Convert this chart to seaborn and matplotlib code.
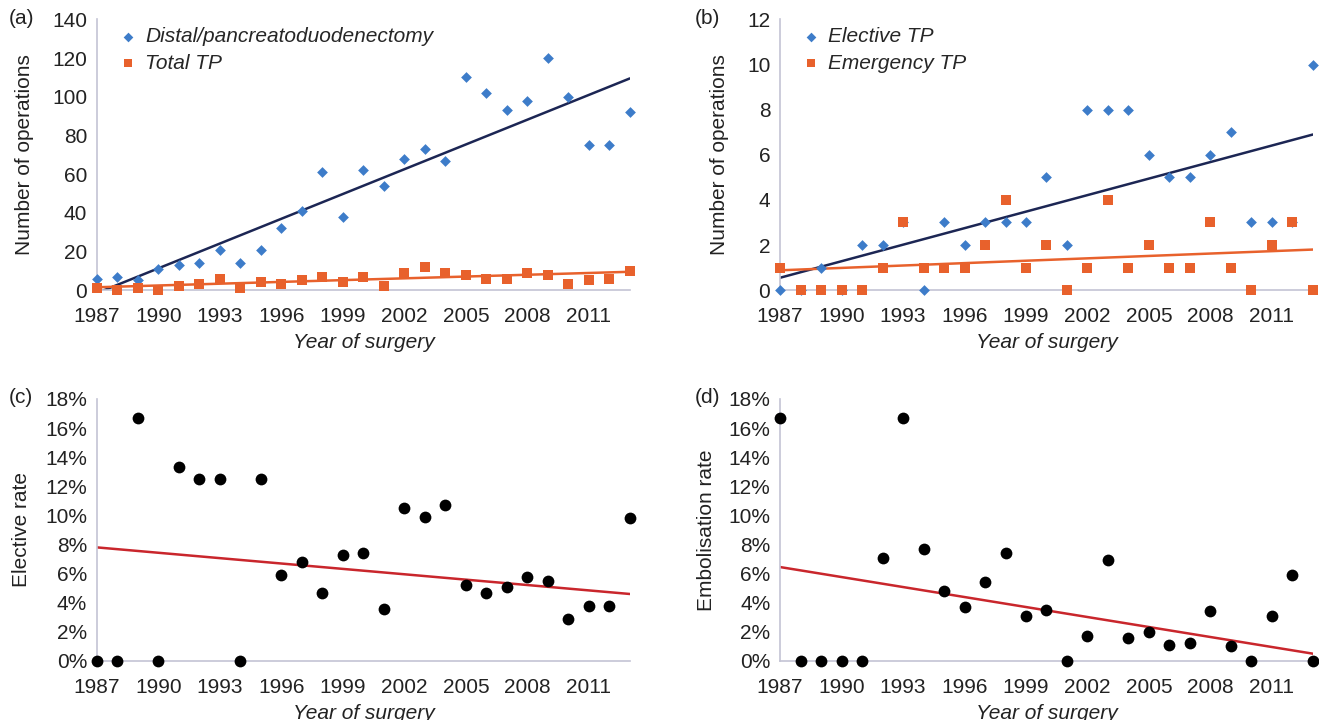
import numpy as np
import pandas as pd
import matplotlib
matplotlib.use("Agg")
import matplotlib.pyplot as plt
import seaborn as sns
from matplotlib.ticker import PercentFormatter

years = list(range(1987, 2014))

# (a) operations per year
distal = [6, 7, 5, 11, 13, 14, 21, 14, 21, 32, 41, 61, 38, 62, 54, 68, 73, 67,
          110, 102, 93, 98, 120, 100, 75, 75, 92]
total_tp = [1, 0, 1, 0, 2, 3, 6, 1, 4, 3, 5, 7, 4, 7, 2, 9, 12, 9,
            8, 6, 6, 9, 8, 3, 5, 6, 10]

# (b) elective vs emergency TP
elective_tp = [0, 0, 1, 0, 2, 2, 3, 0, 3, 2, 3, 3, 3, 5, 2, 8, 8, 8,
               6, 5, 5, 6, 7, 3, 3, 3, 10]
emergency_tp = [1, 0, 0, 0, 0, 1, 3, 1, 1, 1, 2, 4, 1, 2, 0, 1, 4, 1,
                2, 1, 1, 3, 1, 0, 2, 3, 0]

# (c) elective rate, (d) embolisation rate (in %)
elective_rate = [0, 0, 16.7, 0, 13.3, 12.5, 12.5, 0, 12.5, 5.9, 6.8, 4.7, 7.3, 7.4,
                 3.6, 10.5, 9.9, 10.7, 5.2, 4.7, 5.1, 5.8, 5.5, 2.9, 3.8, 3.8, 9.8]
embolisation_rate = [16.7, 0, 0, 0, 0, 7.1, 16.7, 7.7, 4.8, 3.7, 5.4, 7.4, 3.1, 3.5,
                     0, 1.7, 6.9, 1.6, 2.0, 1.1, 1.2, 3.4, 1.0, 0, 3.1, 5.9, 0]

# trend lines as drawn in the figure (value at 1987 and at 2013)
trend_years = [1987, 2013]
trend_distal = [-1.5, 109.5]
trend_total = [1.5, 9.5]
trend_elective = [0.55, 6.9]
trend_emergency = [0.88, 1.8]
trend_elective_rate = [7.8, 4.6]
trend_embolisation_rate = [6.45, 0.5]

xticks = list(range(1987, 2012, 3))

df = pd.DataFrame({"year": years, "distal": distal, "total_tp": total_tp,
                   "elective_tp": elective_tp, "emergency_tp": emergency_tp,
                   "elective_rate": elective_rate,
                   "embolisation_rate": embolisation_rate})
trend = pd.DataFrame({"year": trend_years, "distal": trend_distal,
                      "total_tp": trend_total, "elective_tp": trend_elective,
                      "emergency_tp": trend_emergency,
                      "elective_rate": trend_elective_rate,
                      "embolisation_rate": trend_embolisation_rate})

sns.set_style("white")
plt.rcParams["font.family"] = ["Liberation Sans", "DejaVu Sans"]
plt.rcParams["font.size"] = 14

blue = "#3d7cc9"
orange = "#e8612c"
navy = "#1c2654"
red = "#c9262c"
spine = "#c4c4d4"
txt = "#222222"

fig = plt.figure(figsize=(13.19, 7.2), dpi=100)
ax_a = fig.add_axes([0.0735, 0.597, 0.404, 0.376])
ax_b = fig.add_axes([0.5914, 0.597, 0.404, 0.376])
ax_c = fig.add_axes([0.0735, 0.082, 0.404, 0.364])
ax_d = fig.add_axes([0.5914, 0.082, 0.404, 0.364])


def scatter_fit(ax, col, mcolor, lcolor, marker, size, label=None):
    sns.lineplot(data=trend, x="year", y=col, ax=ax, color=lcolor, lw=1.8,
                 zorder=2)
    sns.scatterplot(data=df, x="year", y=col, ax=ax, color=mcolor,
                    marker=marker, s=size, linewidth=0, clip_on=False,
                    zorder=3, label=label)


scatter_fit(ax_a, "distal", blue, navy, "D", 30, "Distal/pancreatoduodenectomy")
scatter_fit(ax_a, "total_tp", orange, orange, "s", 42, "Total TP")
scatter_fit(ax_b, "elective_tp", blue, navy, "D", 30, "Elective TP")
scatter_fit(ax_b, "emergency_tp", orange, orange, "s", 42, "Emergency TP")
scatter_fit(ax_c, "elective_rate", "black", red, "o", 72)
scatter_fit(ax_d, "embolisation_rate", "black", red, "o", 72)

ax_a.set_ylim(0, 140)
ax_a.set_yticks(range(0, 141, 20))
ax_b.set_ylim(0, 12)
ax_b.set_yticks(range(0, 13, 2))
for ax in (ax_c, ax_d):
    ax.set_ylim(0, 18)
    ax.set_yticks(range(0, 19, 2))
    ax.yaxis.set_major_formatter(PercentFormatter(100, decimals=0))

for ax in (ax_a, ax_b, ax_c, ax_d):
    ax.set_xlim(1987, 2013)
    ax.set_xticks(xticks)
    sns.despine(ax=ax)
    for s in ("left", "bottom"):
        ax.spines[s].set_color(spine)
        ax.spines[s].set_linewidth(1.2)
    ax.tick_params(axis="y", direction="out", length=5, color=spine,
                   labelsize=15, labelcolor=txt, pad=2)
    ax.tick_params(axis="x", direction="in", length=6, color=spine,
                   labelsize=15, labelcolor=txt, pad=12)
    ax.set_xlabel("Year of surgery", fontstyle="italic", fontsize=15,
                  color=txt, labelpad=5)

ax_a.set_ylabel("Number of operations", fontsize=15, color=txt, labelpad=13)
ax_b.set_ylabel("Number of operations", fontsize=15, color=txt, labelpad=13)
ax_c.set_ylabel("Elective rate", fontsize=15, color=txt, labelpad=10)
ax_d.set_ylabel("Embolisation rate", fontsize=15, color=txt, labelpad=9)

for ax in (ax_a, ax_b):
    ax.legend(loc="upper left", bbox_to_anchor=(0.0, 1.04), frameon=False,
              prop={"style": "italic", "size": 15}, handletextpad=0.2,
              labelspacing=0.35, markerscale=0.9, handlelength=1.2)

fig.text(0.007, 0.966, "(a)", fontsize=15, color=txt)
fig.text(0.527, 0.966, "(b)", fontsize=15, color=txt)
fig.text(0.007, 0.440, "(c)", fontsize=15, color=txt)
fig.text(0.527, 0.440, "(d)", fontsize=15, color=txt)

fig.savefig("out.png", dpi=100)
